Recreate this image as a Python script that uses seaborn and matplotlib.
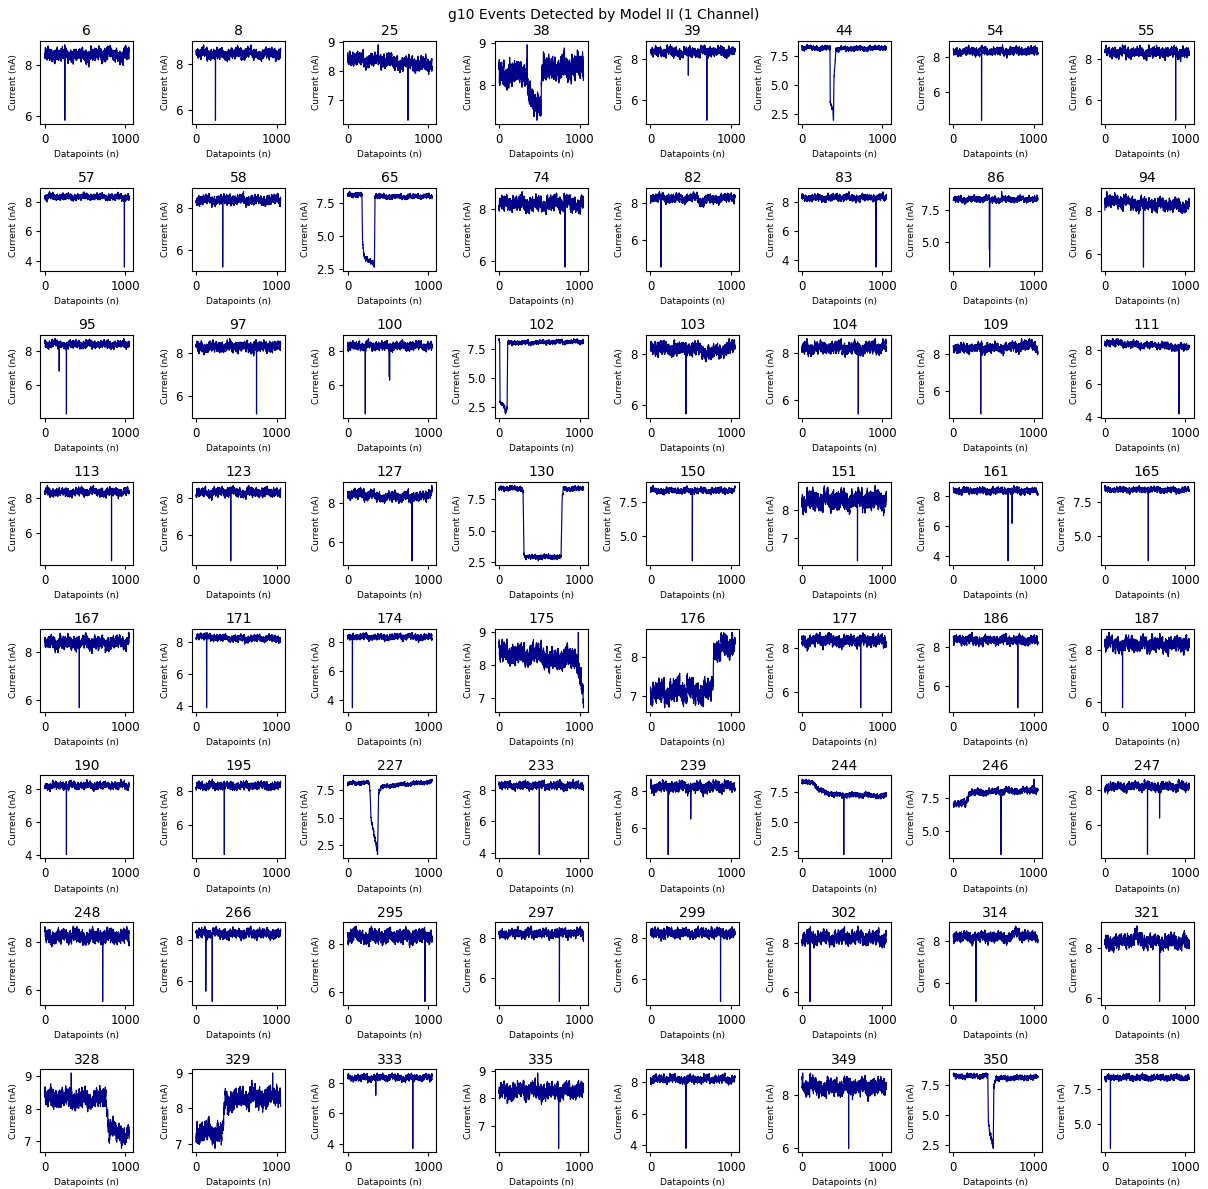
import numpy as np
import matplotlib
matplotlib.use('Agg')
import matplotlib.pyplot as plt
import seaborn as sns

# panel titles (event ids), row by row
titles = ['6', '8', '25', '38', '39', '44', '54', '55',
          '57', '58', '65', '74', '82', '83', '86', '94',
          '95', '97', '100', '102', '103', '104', '109', '111',
          '113', '123', '127', '130', '150', '151', '161', '165',
          '167', '171', '174', '175', '176', '177', '186', '187',
          '190', '195', '227', '233', '239', '244', '246', '247',
          '248', '266', '295', '297', '299', '302', '314', '321',
          '328', '329', '333', '335', '348', '349', '350', '358']

# baseline current level (nA): knot positions and values
level_x = [
    [0, 1049], [0, 1049], [0, 600, 1049], [0, 350, 360, 520, 530, 1049],
    [0, 1049], [0, 348, 352, 385, 392, 398, 410, 425, 1049], [0, 1049], [0, 1049],
    [0, 1049], [0, 1049], [0, 178, 185, 195, 210, 320, 333, 340, 1049], [0, 1049],
    [0, 580, 650, 720, 1049], [0, 1049], [0, 1049], [0, 500, 1049],
    [0, 1049], [0, 1049], [0, 1049], [0, 8, 12, 70, 80, 100, 108, 1049],
    [0, 600, 700, 1049], [0, 1049], [0, 900, 960, 1049], [0, 500, 1049],
    [0, 1049], [0, 1049], [0, 400, 950, 1049], [0, 298, 310, 330, 770, 785, 800, 1049],
    [0, 1049], [0, 1049], [0, 1049], [0, 1049],
    [0, 1049], [0, 300, 1049], [0, 1049], [0, 550, 620, 680, 950, 990, 1030, 1049],
    [0, 720, 760, 780, 790, 1049], [0, 1049], [0, 1049], [0, 1049],
    [0, 1049], [0, 1049], [0, 270, 280, 290, 365, 372, 385, 420, 1049], [0, 1049],
    [0, 1049], [0, 140, 200, 400, 1049], [0, 150, 200, 1049], [0, 1049],
    [0, 1049], [0, 1049], [0, 1049], [0, 1049],
    [0, 1049], [0, 1049], [0, 700, 760, 1049], [0, 350, 380, 420, 1049],
    [0, 760, 800, 1049], [0, 330, 355, 1049], [0, 1049], [0, 1049],
    [0, 1049], [0, 1049], [0, 428, 433, 450, 488, 495, 503, 530, 1049], [0, 1049],
]
level_y = [
    [8.4, 8.4], [8.45, 8.45], [8.45, 8.3, 8.2], [8.25, 8.25, 7.6, 7.55, 8.35, 8.4],
    [8.3, 8.35], [8.2, 8.2, 3.4, 2.8, 2.0, 5.6, 6.8, 8.1, 8.2], [8.3, 8.3], [8.3, 8.3],
    [8.3, 8.3], [8.35, 8.35], [8.15, 8.15, 4.6, 4.0, 3.3, 3.0, 2.6, 8.0, 8.0], [8.2, 8.2],
    [8.25, 8.25, 7.95, 8.2, 8.3], [8.25, 8.25], [8.3, 8.3], [8.45, 8.3, 8.2],
    [8.35, 8.35], [8.3, 8.3], [8.3, 8.3], [8.2, 8.1, 3.0, 2.6, 1.9, 2.5, 8.0, 8.15],
    [8.2, 8.15, 8.0, 8.25], [8.2, 8.2], [8.25, 8.35, 8.6, 8.3], [8.45, 8.3, 8.15],
    [8.35, 8.35], [8.3, 8.3], [8.5, 8.3, 8.3, 8.6], [8.3, 8.3, 3.2, 2.9, 2.9, 7.6, 8.3, 8.3],
    [8.35, 8.35], [8.3, 8.3], [8.35, 8.35], [8.4, 8.4],
    [8.35, 8.35], [8.4, 8.25, 8.2], [8.35, 8.35], [8.35, 8.3, 7.95, 8.2, 8.2, 8.0, 7.2, 6.95],
    [7.1, 7.1, 7.2, 7.4, 8.2, 8.3], [8.3, 8.3], [8.35, 8.35], [8.2, 8.2],
    [8.2, 8.2], [8.3, 8.3], [8.1, 8.2, 7.0, 5.0, 2.2, 1.5, 7.2, 7.8, 8.3], [8.25, 8.25],
    [8.2, 8.2], [8.35, 8.35, 7.7, 7.3, 7.2], [7.0, 7.05, 7.9, 8.1], [8.2, 8.2],
    [8.2, 8.2], [8.3, 8.3], [8.3, 8.3], [8.2, 8.2],
    [8.2, 8.2], [8.2, 8.2], [8.2, 8.15, 8.4, 8.1], [8.2, 8.3, 8.6, 8.3, 8.2],
    [8.3, 8.3, 7.3, 7.2], [7.3, 7.3, 8.2, 8.35], [8.35, 8.35], [8.25, 8.25],
    [8.15, 8.15], [8.3, 8.3], [8.2, 8.2, 4.6, 3.6, 2.6, 2.2, 7.4, 8.0, 8.1], [8.3, 8.3],
]

# half-width of the noise band around the baseline (nA)
noise_amp = [0.5, 0.45, 0.45, 0.55, 0.45, 0.4, 0.45, 0.5,
             0.42, 0.45, 0.35, 0.55, 0.45, 0.45, 0.45, 0.55,
             0.42, 0.48, 0.5, 0.35, 0.5, 0.5, 0.5, 0.4,
             0.45, 0.48, 0.48, 0.35, 0.42, 0.65, 0.42, 0.4,
             0.52, 0.4, 0.4, 0.6, 0.55, 0.5, 0.45, 0.55,
             0.45, 0.45, 0.35, 0.48, 0.55, 0.4, 0.48, 0.48,
             0.55, 0.45, 0.55, 0.45, 0.48, 0.55, 0.48, 0.55,
             0.55, 0.55, 0.42, 0.55, 0.48, 0.6, 0.4, 0.42]

# short spikes: datapoint index and current reached
spike_x = [[250], [240], [380, 750], [350, 470], [470, 700], [], [350], [880],
           [990], [330], [], [820], [130], [920], [448, 450, 600], [480],
           [180, 270], [750], [220, 518, 522], [], [440], [700], [340], [920],
           [830], [430], [800], [], [520], [690], [680, 730], [540],
           [430], [130], [60], [985], [], [730], [800], [220],
           [270], [350], [], [500], [220, 500], [520], [590, 1000], [530, 680],
           [720], [120, 200], [960], [750], [870], [100], [280], [680],
           [330], [950], [350, 810], [480, 740], [440], [580], [], [70]]
spike_y = [[5.85], [5.55], [8.92, 6.3], [8.95, 7.15], [7.2, 5.0], [], [4.4], [5.0],
           [3.6], [5.2], [], [5.75], [4.5], [3.5], [4.4, 3.1, 8.9], [5.4],
           [6.8, 4.3], [5.15], [4.3, 6.5, 6.3], [], [5.65], [5.4], [4.8], [4.2],
           [4.4], [4.6], [5.0], [], [3.2], [6.2], [3.7, 6.2], [3.2],
           [5.7], [3.9], [3.5], [9.0], [], [5.3], [4.9], [5.8],
           [4.0], [4.3], [], [3.9], [4.6, 6.5], [2.2], [3.15, 8.95], [4.3, 6.4],
           [5.5], [5.5, 5.0], [5.6], [4.8], [4.9], [5.6], [5.1], [5.85],
           [9.1], [9.0], [7.2, 3.7], [8.92, 6.2], [3.8], [6.0], [], [3.2]]

# hand-typed jitter tables used as the texture of the recordings
jitter_fine = [0.12, -0.35, 0.48, -0.08, 0.27, -0.61, 0.05, 0.39, -0.22, 0.71,
               -0.44, 0.18, -0.03, 0.55, -0.29, -0.67, 0.33, 0.09, -0.15, 0.62,
               -0.51, 0.24, 0.02, -0.38, 0.45, -0.12, 0.83, -0.26, 0.14, -0.57,
               0.31, -0.05, 0.42, -0.72, 0.19, 0.07, -0.33, 0.58, -0.18, 0.26,
               -0.47, 0.11, 0.66, -0.09, -0.41, 0.36, -0.24, 0.04, 0.52, -0.63,
               0.21, -0.14, 0.39, -0.31, 0.77, -0.02, -0.55, 0.16, 0.29, -0.43,
               0.08, 0.47, -0.20, -0.86, 0.34, 0.13, -0.27, 0.60, -0.06, 0.22,
               -0.49, 0.41, -0.17, 0.03, 0.69, -0.36, 0.15, -0.58, 0.28, -0.10,
               0.50, -0.30, 0.06, 0.37, -0.66, 0.23, -0.04, 0.44, -0.21, 0.10,
               -0.45, 0.64, -0.13, 0.32, -0.52, 0.17, -0.07]
jitter_mid = [-0.28, 0.41, 0.07, -0.53, 0.19, 0.66, -0.11, -0.37, 0.25, 0.02,
              0.58, -0.46, 0.13, -0.19, 0.34, -0.71, 0.45, 0.09, -0.24, 0.81,
              -0.06, -0.39, 0.28, -0.15, 0.52, -0.62, 0.17, 0.36, -0.32, 0.04,
              -0.49, 0.63, -0.09, 0.22, -0.27, 0.47, -0.56, 0.11, 0.30, -0.13,
              0.74, -0.41, -0.02, 0.26, -0.68, 0.39, 0.15, -0.21, 0.55, -0.34,
              0.06, -0.12, 0.33]
jitter_slow = [0.4, -0.2, 0.1, 0.6, -0.5, 0.0, 0.3, -0.7, 0.2, 0.5, -0.3, 0.8,
               -0.1, -0.6, 0.35, 0.1, -0.4, 0.65, -0.25, 0.05, 0.45, -0.55, 0.15]

n_points = 1050
idx = np.arange(n_points)
jf, jm, js = np.array(jitter_fine), np.array(jitter_mid), np.array(jitter_slow)

fig, axes = plt.subplots(8, 8, figsize=(12.08, 11.89), dpi=100)
fig.subplots_adjust(left=0.0335, right=0.988, top=0.9655, bottom=0.031,
                    wspace=0.63, hspace=0.77)

for k, ax in enumerate(axes.flat):
    o = k * 13
    jit = (0.38 * jf[(idx + o) % len(jf)]
           + 0.55 * jm[((idx + 5 * o) // 8) % len(jm)]
           + 0.3 * js[((idx + 11 * o) // 70) % len(js)])
    trace = np.interp(idx, level_x[k], level_y[k]) + noise_amp[k] * jit
    for sx, sy in zip(spike_x[k], spike_y[k]):
        trace[sx] = sy

    sns.lineplot(x=idx, y=trace, ax=ax, color='darkblue', linewidth=0.85,
                 errorbar=None)
    ax.set_title(titles[k], fontsize=10, pad=4)
    ax.set_xlabel('Datapoints (n)', fontsize=6.5, labelpad=3)
    ax.set_ylabel('Current (nA)', fontsize=6.5)
    ax.set_xticks([0, 1000])
    ax.tick_params(labelsize=8.5, length=3)

fig.suptitle('g10 Events Detected by Model II (1 Channel)', fontsize=10,
             y=0.9935, va='top')
fig.savefig('out.png', dpi=100)
